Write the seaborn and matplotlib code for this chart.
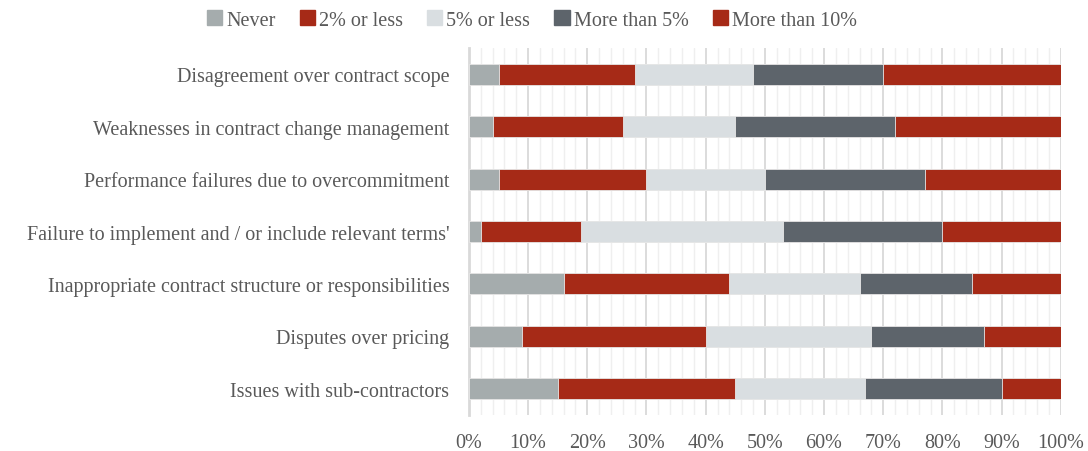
import matplotlib.pyplot as plt
import matplotlib.patches as mpatches
import numpy as np
import pandas as pd
import seaborn as sns

categories = [
    "Disagreement over contract scope",
    "Weaknesses in contract change management",
    "Performance failures due to overcommitment",
    "Failure to implement and / or include relevant terms'",
    "Inappropriate contract structure or responsibilities",
    "Disputes over pricing",
    "Issues with sub-contractors",
]
series = ["Never", "2% or less", "5% or less", "More than 5%", "More than 10%"]
never = [5, 4, 5, 2, 16, 9, 15]
two_pct = [23, 22, 25, 17, 28, 31, 30]
five_pct = [20, 19, 20, 34, 22, 28, 22]
more_5 = [22, 27, 27, 27, 19, 19, 23]
more_10 = [30, 28, 23, 20, 15, 13, 10]
colors = ["#A5ACAD", "#A62A17", "#D9DEE1", "#5D646B", "#A62A17"]

sns.set_theme(style="white")
plt.rcParams['font.family'] = ['Liberation Serif', 'DejaVu Serif']
text_col = "#595959"

df = pd.DataFrame({"Category": categories, "Never": never, "2% or less": two_pct,
                   "5% or less": five_pct, "More than 5%": more_5, "More than 10%": more_10})
cum = df[series].cumsum(axis=1)

fig = plt.figure(figsize=(10.88, 4.52), dpi=100)
ax = fig.add_axes([0.431, 0.0796, 0.544, 0.812])

# stacked bars: draw cumulative totals from the largest down
for name, col in reversed(list(zip(series, colors))):
    sns.barplot(x=cum[name], y=df["Category"], color=col, width=0.4,
                saturation=1, edgecolor="#E8E8E8", linewidth=0.6, ax=ax, zorder=3)

ax.set_xlim(0, 100)
ax.set_xticks(np.arange(0, 101, 10))
ax.set_xticks(np.arange(0, 101, 2), minor=True)
ax.set_xticklabels([f"{v}%" for v in range(0, 101, 10)])
ax.grid(axis="x", which="major", color="#D9D9D9", lw=1.3, zorder=0)
ax.grid(axis="x", which="minor", color="#EFEFEF", lw=1.0, zorder=0)
ax.set_axisbelow(True)
ax.set_xlabel("")
ax.set_ylabel("")
for s in ["top", "right", "bottom"]:
    ax.spines[s].set_visible(False)
ax.spines["left"].set_color("#D9D9D9")
ax.spines["left"].set_linewidth(2)
ax.tick_params(axis="x", labelsize=14.5, colors=text_col, pad=13, length=0)
ax.tick_params(axis="x", which="minor", length=0)
ax.tick_params(axis="y", labelsize=14.5, colors=text_col, pad=14, length=0)

handles = [mpatches.Patch(color=c, label=s) for s, c in zip(series, colors)]
fig.legend(handles=handles, loc="upper center", bbox_to_anchor=(0.489, 1.015), ncol=5,
           frameon=False, fontsize=14.5, labelcolor=text_col, handlelength=0.75,
           handleheight=0.75, handletextpad=0.2, columnspacing=1.2)

fig.savefig("out.png", dpi=100)
